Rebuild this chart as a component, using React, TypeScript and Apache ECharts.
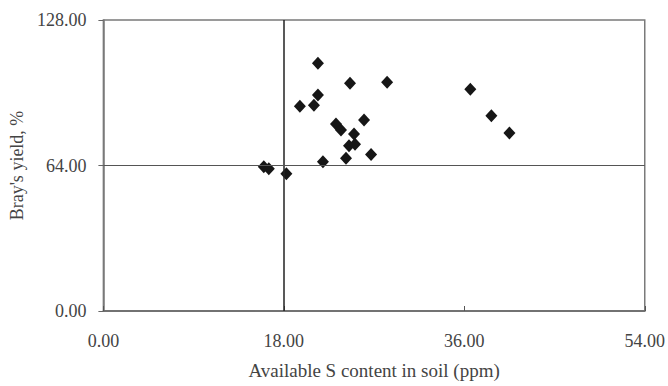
import React, { useEffect, useRef } from "react";
import * as echarts from "echarts";

const sContent = [21.4, 24.6, 28.3, 21.4, 19.6, 21.0, 23.2, 23.7, 26.0, 25.0, 24.5, 25.1, 24.2, 26.7, 21.9, 16.0, 16.5, 18.25, 36.6, 38.7, 40.5];
const braysYield = [109.0, 100.2, 100.6, 95.0, 90.1, 90.5, 82.3, 79.6, 84.0, 77.9, 72.7, 73.3, 67.2, 68.8, 65.7, 63.5, 62.6, 60.4, 97.5, 85.9, 78.3];
const xTicks = [0, 18, 36, 54];
const yTicks = [0, 64, 128];

export default function App() {
  const ref = useRef<HTMLDivElement>(null);
  useEffect(() => {
    if (!ref.current) return;
    const chart = echarts.init(ref.current, null, { renderer: "svg" });
    const font = "'Liberation Serif', 'Times New Roman', serif";
    chart.setOption({
      animation: false,
      textStyle: { fontFamily: font },
      grid: { left: 100, right: 22, top: 20, bottom: 75, show: true, borderColor: "#7a7a7a", borderWidth: 1.5 },
      xAxis: {
        type: "value",
        min: xTicks[0],
        max: xTicks[xTicks.length - 1],
        interval: 18,
        name: "Available S content in soil (ppm)",
        nameLocation: "middle",
        nameGap: 50,
        nameTextStyle: { fontFamily: font, fontSize: 19, color: "#444" },
        axisLine: { show: true, lineStyle: { color: "#666", width: 1.5 } },
        axisTick: { show: true, inside: true, length: 5, lineStyle: { color: "#555" } },
        axisLabel: { fontFamily: font, fontSize: 18, color: "#444", margin: 21, formatter: (v: number) => v.toFixed(2) },
        splitLine: { show: false },
      },
      yAxis: {
        type: "value",
        min: yTicks[0],
        max: yTicks[yTicks.length - 1],
        interval: 64,
        name: "Bray's yield, %",
        nameLocation: "middle",
        nameGap: 76,
        nameTextStyle: { fontFamily: font, fontSize: 18, color: "#444" },
        axisLine: { show: true, lineStyle: { color: "#7a7a7a", width: 1.5 } },
        axisTick: { show: true, inside: false, length: 5, lineStyle: { color: "#666" } },
        axisLabel: { fontFamily: font, fontSize: 18, color: "#444", margin: 17, formatter: (v: number) => v.toFixed(2) },
        splitLine: { show: false },
      },
      series: [
        {
          type: "scatter",
          data: sContent.map((x, i) => [x, braysYield[i]]),
          symbol: "diamond",
          symbolSize: [12, 13],
          itemStyle: { color: "#161616", opacity: 1 },
          markLine: {
            silent: true,
            symbol: "none",
            label: { show: false },
            data: [
              { xAxis: 18, lineStyle: { color: "#222", width: 1.5, type: "solid" } },
              { yAxis: 64, lineStyle: { color: "#555", width: 1.2, type: "solid" } },
            ],
          },
          z: 3,
        },
      ],
    });
    return () => chart.dispose();
  }, []);
  return <div ref={ref} style={{ width: 668, height: 386, position: "absolute", left: 0, top: 0 }} />;
}
